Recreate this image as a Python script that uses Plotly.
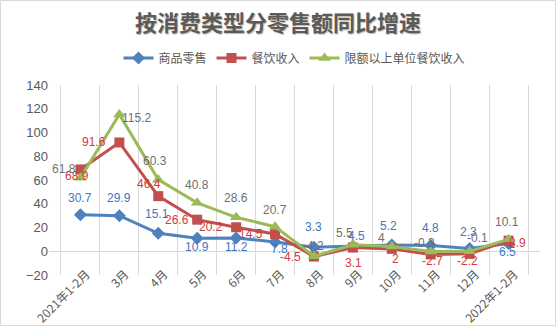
import plotly.graph_objects as go

categories = ["2021年1-2月", "3月", "4月", "5月", "6月", "7月", "8月", "9月", "10月", "11月", "12月", "2022年1-2月"]
retail = [30.7, 29.9, 15.1, 10.9, 11.2, 7.8, 3.3, 4.5, 5.2, 4.8, 2.3, 6.5]
catering = [68.9, 91.6, 46.4, 26.6, 20.2, 14.5, -4.5, 3.1, 2, -2.7, -2.2, 8.9]
catering_above = [61.8, 115.2, 60.3, 40.8, 28.6, 20.7, -4.2, 5.5, 4, -0.3, -0.1, 10.1]
names = ["商品零售", "餐饮收入", "限额以上单位餐饮收入"]

# label offsets (pixels, dx right, dy down) relative to each point
off_retail = [(0, -17), (0, -18), (-1, -19), (0, 9), (0, 9), (4, 7),
              (0, -20), (4, -10), (-3, -19), (0, -18), (-1, -17), (-1, 8)]
off_catering = [(-3, 7), (-25, 0), (-9, -12), (-20, 0), (-25, 0), (-24, 0),
                (-23, 0), (1, 15), (4, 10), (2, 7), (-2, 7), (9, 2)]
off_above = [(-16, -9), (17, 4), (-3, -19), (0, -18), (0, -19), (0, -17),
             (0, -10), (-8, -12), (-10, -9), (-6, -9), (8, -13), (-2, -17)]

num_font = "Liberation Sans, Arial, sans-serif"
cjk_font = "Noto Sans CJK SC, sans-serif"

series = [
    (names[0], retail, "#4F81BD", "diamond", 10, "#3F76C4", off_retail),
    (names[1], catering, "#C0504D", "square", 10, "#D23B3B", off_catering),
    (names[2], catering_above, "#9BBB59", "triangle-up", 11, "#6F6F6F", off_above),
]

fig = go.Figure()
annotations = []
for name, vals, col, sym, msize, tcol, offs in series:
    fig.add_trace(go.Scatter(
        x=categories, y=vals, name=name, mode="lines+markers",
        line=dict(color=col, width=3),
        marker=dict(symbol=sym, size=msize, color=col),
    ))
    for c, v, (dx, dy) in zip(categories, vals, offs):
        annotations.append(dict(
            x=c, y=v, xref="x", yref="y", text=str(v), showarrow=False,
            xanchor="center", yanchor="middle", xshift=dx, yshift=-dy,
            font=dict(family=num_font, size=12, color=tcol),
        ))

L, R, T, B = 49, 16, 85, 51
W, H = 556, 326
pw, ph = W - L - R, H - T - B

fig.update_layout(
    width=W, height=H,
    margin=dict(l=L, r=R, t=T, b=B, autoexpand=False),
    paper_bgcolor="white", plot_bgcolor="white",
    title=dict(text="<b>按消费类型分零售额同比增速</b>", x=0.5, xanchor="center",
               y=1 - 23 / H, yanchor="middle",
               font=dict(family=cjk_font, size=22, color="#5A5A5A",
                         shadow="1px 1px 1px rgba(120,100,80,0.45)")),
    legend=dict(orientation="h", x=0.5, xanchor="center", y=1 + (T - 58) / ph, yanchor="middle",
                font=dict(family=cjk_font, size=12, color="#595959"),
                itemwidth=30, tracegroupgap=0),
    showlegend=True,
    annotations=annotations,
    shapes=[dict(type="rect", xref="paper", yref="paper",
                 x0=-(L - 0.5) / pw, x1=1 + (R - 0.5) / pw,
                 y0=-(B - 0.5) / ph, y1=1 + (T - 0.5) / ph,
                 line=dict(color="#D9D9D9", width=1), layer="below")],
)
fig.update_xaxes(
    type="category", tickson="boundaries", showgrid=True, gridcolor="#D9D9D9", gridwidth=1,
    tickangle=-45, ticks="", showline=False, automargin=False,
    ticklabelstandoff=-11, ticklabelshift=6,
    tickfont=dict(family=cjk_font, size=12, color="#595959"),
)
fig.update_yaxes(
    range=[-20, 140], dtick=20, showgrid=False, zeroline=True, zerolinecolor="#D9D9D9",
    zerolinewidth=1, ticks="", showline=False, automargin=False,
    tickfont=dict(family=num_font, size=13, color="#595959"),
)

fig.write_html("out.html")
